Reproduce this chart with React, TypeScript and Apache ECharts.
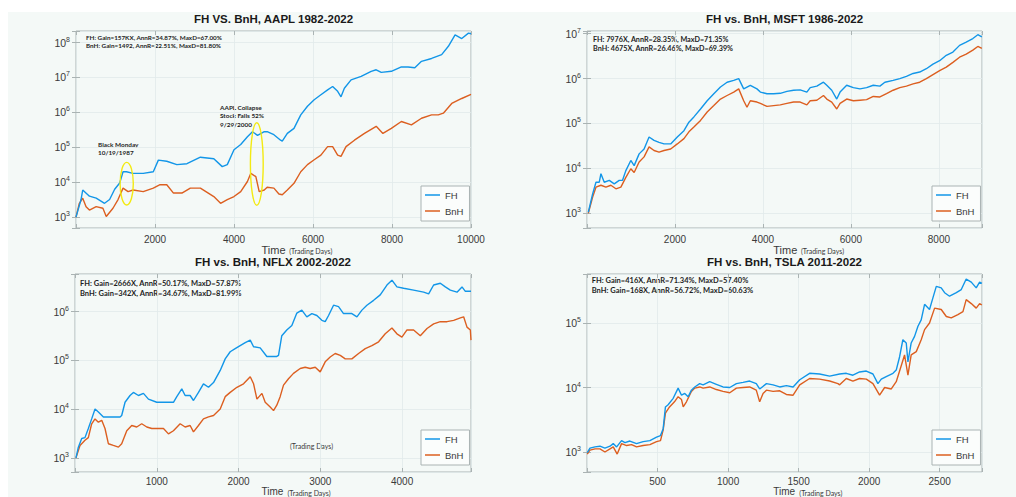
import React, { useEffect, useRef } from 'react';
import * as echarts from 'echarts';

// ---------- data (trading day, portfolio value) ----------
const AAPL_FH: [number, number][] = [
  [0, 1.0e3], [128, 3.2e3], [170, 6.0e3], [340, 4.0e3], [511, 3.5e3], [723, 2.5e3], [851, 3.2e3],
  [979, 6.3e3], [1106, 9.5e3], [1191, 2.0e4], [1277, 2.0e4], [1447, 1.8e4], [1702, 1.8e4],
  [1957, 2.0e4], [2085, 4.3e4], [2298, 4.0e4], [2553, 3.2e4], [2809, 3.4e4], [3149, 5.2e4],
  [3489, 4.7e4], [3702, 2.8e4], [3830, 3.2e4], [4000, 8.5e4], [4170, 1.2e5], [4340, 2.0e5],
  [4468, 2.8e5], [4596, 2.2e5], [4766, 2.8e5], [4840, 2.8e5], [5010, 2.3e5], [5180, 1.6e5],
  [5222, 1.5e5], [5350, 2.5e5], [5519, 3.5e5], [5690, 8.5e5], [5860, 1.5e6], [6030, 2.3e6],
  [6200, 3.2e6], [6370, 4.4e6], [6497, 5.5e6], [6624, 4.0e6], [6709, 2.8e6], [6794, 4.9e6],
  [6964, 8.5e6], [7219, 1.07e7], [7473, 1.5e7], [7600, 1.66e7], [7728, 1.4e7], [7983, 1.5e7],
  [8237, 2.0e7], [8407, 2.0e7], [8577, 1.9e7], [8747, 2.9e7], [9002, 3.5e7], [9257, 4.5e7],
  [9427, 7.8e7], [9597, 1.66e8], [9766, 1.3e8], [9936, 1.86e8], [10000, 1.78e8],
];
const AAPL_BNH: [number, number][] = [
  [0, 1.0e3], [85, 2.5e3], [170, 3.5e3], [255, 2.0e3], [340, 1.6e3], [511, 2.0e3], [681, 1.8e3],
  [766, 1.05e3], [936, 1.8e3], [1064, 3.2e3], [1191, 6.8e3], [1319, 5.4e3], [1447, 6.0e3],
  [1702, 5.4e3], [1957, 6.8e3], [2128, 8.5e3], [2298, 8.5e3], [2468, 4.9e3], [2681, 4.9e3],
  [2894, 6.8e3], [3149, 6.8e3], [3489, 3.9e3], [3660, 2.5e3], [3830, 3.2e3], [4000, 3.9e3],
  [4170, 5.4e3], [4340, 1.05e4], [4426, 1.8e4], [4553, 1.45e4], [4638, 5.4e3], [4766, 6.0e3],
  [4840, 7.2e3], [5010, 6.8e3], [5137, 4.6e3], [5222, 4.4e3], [5350, 6.0e3], [5519, 9.3e3],
  [5690, 2.0e4], [5860, 3.2e4], [6030, 4.4e4], [6200, 6.0e4], [6370, 1.05e5], [6497, 1.05e5],
  [6624, 6.0e4], [6709, 5.5e4], [6836, 1.05e5], [7049, 1.6e5], [7303, 2.5e5], [7600, 4.0e5],
  [7770, 2.5e5], [7983, 3.5e5], [8237, 5.5e5], [8492, 4.4e5], [8747, 6.8e5], [9002, 8.5e5],
  [9172, 8.5e5], [9300, 9.5e5], [9512, 1.8e6], [9766, 2.5e6], [10000, 3.3e6],
];
const MSFT_FH: [number, number][] = [
  [30, 1.05e3], [128, 2.7e3], [204, 4.9e3], [279, 4.9e3], [317, 7.6e3], [392, 4.9e3], [506, 5.4e3],
  [619, 4.5e3], [732, 5.4e3], [808, 5.4e3], [883, 8.9e3], [996, 1.5e4], [1072, 1.15e4],
  [1185, 2.1e4], [1298, 2.7e4], [1411, 5.0e4], [1524, 4.2e4], [1638, 3.8e4], [1751, 3.5e4],
  [1902, 3.5e4], [2053, 5.0e4], [2204, 6.9e4], [2317, 1.07e5], [2430, 1.4e5], [2581, 2.1e5],
  [2732, 3.2e5], [2883, 4.6e5], [3034, 6.5e5], [3185, 8.3e5], [3336, 9.1e5], [3449, 1.0e6],
  [3562, 5.9e5], [3713, 7.1e5], [3864, 5.9e5], [3941, 5.0e5], [4092, 4.6e5], [4243, 4.6e5],
  [4394, 4.7e5], [4545, 5.2e5], [4696, 5.5e5], [4847, 5.6e5], [4998, 5.0e5], [5074, 6.3e5],
  [5225, 6.8e5], [5376, 8.3e5], [5451, 7.1e5], [5564, 5.5e5], [5678, 3.5e5], [5753, 5.0e5],
  [5904, 7.1e5], [6055, 6.3e5], [6206, 5.9e5], [6357, 6.3e5], [6508, 7.1e5], [6659, 6.8e5],
  [6772, 8.3e5], [6960, 9.1e5], [7111, 1.0e6], [7262, 1.12e6], [7413, 1.3e6], [7564, 1.4e6],
  [7715, 1.66e6], [7866, 2.1e6], [8017, 2.5e6], [8168, 3.3e6], [8319, 3.9e6], [8470, 5.5e6],
  [8621, 6.5e6], [8772, 7.8e6], [8885, 9.5e6], [8976, 8.5e6],
];
const MSFT_BNH: [number, number][] = [
  [30, 1.0e3], [128, 2.3e3], [204, 3.8e3], [317, 4.2e3], [430, 3.8e3], [543, 4.2e3], [657, 3.5e3],
  [770, 3.8e3], [883, 6.3e3], [996, 9.8e3], [1072, 8.1e3], [1185, 1.38e4], [1298, 1.8e4],
  [1411, 3.0e4], [1524, 2.5e4], [1638, 2.3e4], [1751, 2.5e4], [1902, 2.7e4], [2053, 3.5e4],
  [2204, 4.6e4], [2317, 6.5e4], [2430, 8.3e4], [2581, 1.17e5], [2732, 1.8e5], [2883, 2.5e5],
  [3034, 3.5e5], [3185, 4.2e5], [3336, 5.0e5], [3449, 5.9e5], [3562, 3.2e5], [3637, 2.3e5],
  [3713, 3.2e5], [3864, 3.0e5], [3941, 2.8e5], [4092, 2.4e5], [4243, 2.5e5], [4394, 2.6e5],
  [4545, 2.8e5], [4696, 3.0e5], [4847, 3.0e5], [4998, 2.6e5], [5074, 3.2e5], [5225, 3.3e5],
  [5376, 4.2e5], [5451, 3.5e5], [5564, 3.0e5], [5678, 2.1e5], [5753, 2.8e5], [5904, 3.5e5],
  [6055, 3.2e5], [6206, 3.3e5], [6357, 3.4e5], [6508, 4.0e5], [6659, 3.9e5], [6809, 4.6e5],
  [6960, 5.5e5], [7111, 6.3e5], [7262, 6.8e5], [7413, 7.6e5], [7564, 8.3e5], [7715, 1.0e6],
  [7866, 1.23e6], [8017, 1.5e6], [8168, 1.8e6], [8319, 2.3e6], [8470, 3.0e6], [8621, 3.5e6],
  [8772, 4.3e6], [8885, 5.2e6], [8976, 4.7e6],
];
const NFLX_FH: [number, number][] = [
  [12, 1.0e3], [41, 1.66e3], [82, 2.5e3], [122, 2.6e3], [163, 4.0e3], [204, 6.3e3], [245, 1.0e4],
  [286, 8.7e3], [347, 6.9e3], [429, 6.9e3], [551, 6.9e3], [571, 7.4e3], [612, 1.38e4],
  [673, 1.9e4], [714, 2.2e4], [776, 1.9e4], [837, 2.1e4], [898, 1.6e4], [1000, 1.38e4],
  [1204, 1.38e4], [1245, 1.8e4], [1306, 2.6e4], [1347, 1.9e4], [1408, 1.9e4], [1449, 1.5e4],
  [1510, 2.2e4], [1571, 3.3e4], [1633, 2.8e4], [1694, 3.5e4], [1776, 6.2e4], [1837, 1.07e5],
  [1898, 1.5e5], [1959, 1.74e5], [2020, 2.0e5], [2082, 2.3e5], [2143, 2.6e5], [2184, 1.9e5],
  [2265, 1.8e5], [2346, 1.2e5], [2468, 1.2e5], [2489, 1.26e5], [2529, 3.2e5], [2590, 4.2e5],
  [2652, 5.2e5], [2713, 9.3e5], [2774, 1.07e6], [2835, 7.8e5], [2897, 9.1e5], [2958, 8.3e5],
  [3019, 6.6e5], [3060, 6.2e5], [3101, 8.3e5], [3162, 1.35e6], [3223, 1.26e6], [3284, 9.1e5],
  [3386, 9.1e5], [3448, 7.8e5], [3509, 1.07e6], [3570, 1.35e6], [3652, 1.7e6], [3733, 2.2e6],
  [3815, 3.5e6], [3876, 4.4e6], [3937, 3.2e6], [4019, 3.0e6], [4141, 2.75e6], [4264, 2.5e6],
  [4325, 2.3e6], [4386, 3.5e6], [4468, 3.8e6], [4529, 3.2e6], [4590, 2.75e6], [4672, 2.5e6],
  [4733, 3.2e6], [4774, 2.6e6], [4843, 2.6e6],
];
const NFLX_BNH: [number, number][] = [
  [12, 1.0e3], [61, 1.8e3], [122, 2.3e3], [163, 2.6e3], [204, 5.0e3], [245, 6.3e3], [286, 5.4e3],
  [327, 5.9e3], [367, 4.0e3], [408, 1.95e3], [469, 1.8e3], [531, 1.66e3], [571, 1.95e3],
  [633, 3.6e3], [694, 4.6e3], [755, 4.3e3], [816, 5.0e3], [878, 4.3e3], [939, 4.0e3],
  [1000, 4.0e3], [1082, 4.0e3], [1143, 3.1e3], [1204, 3.6e3], [1286, 5.0e3], [1347, 4.3e3],
  [1408, 4.6e3], [1449, 3.4e3], [1510, 4.6e3], [1571, 6.3e3], [1633, 6.9e3], [1694, 7.4e3],
  [1776, 1.0e4], [1837, 1.8e4], [1898, 2.2e4], [1980, 2.8e4], [2061, 3.3e4], [2143, 4.6e4],
  [2184, 3.3e4], [2225, 1.6e4], [2286, 2.1e4], [2326, 1.38e4], [2387, 1.1e4], [2428, 9.3e3],
  [2468, 1.2e4], [2509, 1.8e4], [2550, 3.1e4], [2611, 4.2e4], [2672, 5.4e4], [2754, 6.8e4],
  [2815, 7.2e4], [2876, 6.8e4], [2938, 7.2e4], [2999, 5.8e4], [3060, 9.3e4], [3121, 1.17e5],
  [3182, 1.38e5], [3244, 1.26e5], [3305, 1.07e5], [3386, 1.07e5], [3468, 1.38e5], [3550, 1.74e5],
  [3631, 2.0e5], [3713, 2.4e5], [3794, 3.5e5], [3876, 4.6e5], [3937, 3.5e5], [3998, 3.0e5],
  [4060, 4.2e5], [4141, 4.2e5], [4223, 3.2e5], [4305, 4.5e5], [4386, 5.6e5], [4468, 6.2e5],
  [4550, 6.2e5], [4631, 6.6e5], [4713, 7.4e5], [4753, 7.8e5], [4794, 4.8e5], [4835, 4.2e5],
  [4843, 2.6e5],
];
const TSLA_FH: [number, number][] = [
  [2, 980], [21, 1.15e3], [57, 1.2e3], [92, 1.23e3], [127, 1.15e3], [163, 1.23e3], [186, 1.35e3],
  [210, 1.2e3], [245, 1.5e3], [269, 1.4e3], [304, 1.48e3], [351, 1.35e3], [398, 1.45e3],
  [446, 1.5e3], [493, 1.7e3], [521, 1.8e3], [540, 2.3e3], [556, 5.0e3], [575, 5.4e3],
  [611, 6.8e3], [646, 9.8e3], [670, 7.6e3], [693, 8.1e3], [717, 7.2e3], [740, 9.1e3],
  [764, 1.02e4], [799, 1.15e4], [823, 1.1e4], [870, 1.23e4], [917, 1.12e4], [964, 1.02e4],
  [1012, 1.0e4], [1059, 1.15e4], [1106, 1.2e4], [1153, 1.26e4], [1200, 1.15e4], [1224, 9.5e3],
  [1272, 1.15e4], [1319, 1.1e4], [1366, 1.02e4], [1413, 1.07e4], [1461, 1.02e4], [1508, 1.32e4],
  [1578, 1.66e4], [1649, 1.62e4], [1720, 1.5e4], [1791, 1.62e4], [1838, 1.66e4], [1885, 1.55e4],
  [1932, 1.74e4], [1980, 1.8e4], [2027, 1.62e4], [2062, 1.15e4], [2086, 1.35e4], [2121, 1.48e4],
  [2169, 1.66e4], [2192, 1.86e4], [2216, 3.0e4], [2239, 5.5e4], [2263, 4.9e4], [2275, 2.5e4],
  [2298, 4.9e4], [2322, 6.2e4], [2346, 8.9e4], [2369, 1.12e5], [2393, 1.95e5], [2428, 1.62e5],
  [2452, 2.45e5], [2476, 3.7e5], [2511, 3.5e5], [2535, 2.95e5], [2570, 2.6e5], [2618, 2.95e5],
  [2653, 3.3e5], [2688, 4.8e5], [2724, 4.3e5], [2759, 3.5e5], [2783, 4.3e5], [2799, 4.1e5],
];
const TSLA_BNH: [number, number][] = [
  [2, 930], [21, 1.07e3], [57, 1.12e3], [92, 1.12e3], [127, 1.0e3], [163, 1.12e3], [186, 1.2e3],
  [214, 930], [245, 1.35e3], [281, 1.26e3], [316, 1.3e3], [351, 1.2e3], [398, 1.26e3],
  [446, 1.3e3], [493, 1.45e3], [521, 1.5e3], [540, 2.2e3], [556, 4.0e3], [585, 5.0e3],
  [620, 6.0e3], [646, 7.2e3], [670, 6.5e3], [682, 5.0e3], [705, 6.0e3], [740, 8.7e3],
  [764, 9.8e3], [799, 1.02e4], [823, 9.8e3], [870, 1.02e4], [917, 9.3e3], [964, 8.7e3],
  [1012, 8.3e3], [1059, 9.8e3], [1106, 1.0e4], [1153, 1.02e4], [1200, 9.1e3], [1224, 6.0e3],
  [1248, 8.1e3], [1272, 9.1e3], [1319, 8.7e3], [1366, 8.9e3], [1413, 7.8e3], [1461, 7.6e3],
  [1508, 1.1e4], [1578, 1.38e4], [1649, 1.35e4], [1720, 1.26e4], [1779, 1.15e4], [1791, 1.1e4],
  [1838, 1.38e4], [1885, 1.26e4], [1932, 1.38e4], [1980, 1.35e4], [2027, 1.15e4], [2074, 7.6e3],
  [2110, 1.0e4], [2157, 9.5e3], [2192, 1.23e4], [2228, 2.2e4], [2251, 3.2e4], [2275, 1.55e4],
  [2298, 3.2e4], [2334, 3.6e4], [2369, 5.5e4], [2393, 7.9e4], [2428, 1.0e5], [2464, 1.7e5],
  [2511, 1.62e5], [2547, 1.26e5], [2582, 1.2e5], [2629, 1.35e5], [2665, 1.5e5], [2688, 2.3e5],
  [2724, 2.0e5], [2759, 1.7e5], [2783, 2.0e5], [2799, 1.9e5],
];

const SERIES_NAMES = ['FH', 'BnH'];
const TITLES = [
  'FH VS. BnH, AAPL 1982-2022',
  'FH vs. BnH, MSFT 1986-2022',
  'FH vs. BnH, NFLX 2002-2022',
  'FH vs. BnH, TSLA 2011-2022',
];
const STATS = [
  ['FH: Gain=157KX, AnnR=34.87%, MaxD=67.00%', 'BnH: Gain=1492, AnnR=22.51%, MaxD=81.80%'],
  ['FH: 7976X, AnnR=28.35%, MaxD=71.35%', 'BnH: 4675X, AnnR=26.46%, MaxD=69.39%'],
  ['FH: Gain=2666X, AnnR=50.17%, MaxD=57.87%', 'BnH: Gain=342X, AnnR=34.67%, MaxD=81.99%'],
  ['FH: Gain=416X, AnnR=71.34%, MaxD=57.40%', 'BnH: Gain=168X, AnnR=56.72%, MaxD=60.63%'],
];
const X_STEP = [2000, 2000, 1000, 500];
const X_MAX = [10000, 8980, 4843, 2800];
const Y_MIN = [490, 468, 513, 490];
const Y_MAX = [2.14e8, 1.15e7, 5.89e6, 5.75e5];
const DATA: [number, number][][][] = [
  [AAPL_FH, AAPL_BNH],
  [MSFT_FH, MSFT_BNH],
  [NFLX_FH, NFLX_BNH],
  [TSLA_FH, TSLA_BNH],
];

// ---------- layout / style ----------
const GRIDS = [
  { left: 76, top: 31, width: 395, height: 197 },
  { left: 587, top: 31, width: 395, height: 197 },
  { left: 75, top: 274, width: 396, height: 198 },
  { left: 587, top: 274, width: 395, height: 198 },
];
const STATS_POS = [
  { x: 86, y: 37.3, dy: 7.8, size: 6.3 },
  { x: 593, y: 39.3, dy: 9.4, size: 7.2 },
  { x: 80, y: 283.3, dy: 10, size: 7.5 },
  { x: 591.7, y: 280, dy: 10, size: 7.5 },
];
const COLORS = ['#1296e8', '#dc5f20'];
const BG = '#f4f9f7';
const AXIS_C = '#aab3b3';
const GRID_C = '#e1eaea';
const LABEL_C = '#3a3a3a';
const SANS = '"Liberation Sans", Arial, Helvetica, sans-serif';
const NOTE = 'Lato, "Open Sans", sans-serif';

function buildOption() {
  const xAxis: any[] = [];
  const yAxis: any[] = [];
  const grid: any[] = [];
  const series: any[] = [];
  const legend: any[] = [];
  const graphic: any[] = [
    { type: 'rect', shape: { x: 0, y: 0, width: 1016, height: 12 }, style: { fill: '#ffffff' }, silent: true },
    { type: 'rect', shape: { x: 0, y: 0, width: 8, height: 497 }, style: { fill: '#ffffff' }, silent: true },
  ];

  const powFmt = (v: number) => {
    const e = Math.log10(v);
    const r = Math.round(e);
    if (Math.abs(e - r) > 1e-6) return '';
    return `{b|10}{s|${r}}`;
  };

  GRIDS.forEach((g, i) => {
    const bottomRow = i >= 2;
    grid.push({
      ...g,
      show: true,
      backgroundColor: BG,
      borderColor: AXIS_C,
      borderWidth: 1,
      containLabel: false,
    });
    const step = X_STEP[i];
    const xBase = {
      type: 'value',
      gridIndex: i,
      min: 0,
      max: X_MAX[i],
      interval: step,
      axisLine: { show: false },
      axisTick: { show: true, inside: true, length: 4, lineStyle: { color: AXIS_C } },
    };
    xAxis.push({
      ...xBase,
      position: 'bottom',
      splitLine: { show: true, lineStyle: { color: GRID_C, width: 0.8 } },
      axisLabel: {
        margin: bottomRow ? 4 : 6,
        fontSize: 10,
        color: LABEL_C,
        fontFamily: SANS,
        formatter: (v: number) => (v > 0 && v % step === 0 ? String(v) : ''),
      },
    });
    xAxis.push({
      ...xBase,
      position: 'top',
      splitLine: { show: false },
      axisLabel: { show: false },
    });
    const yBase = {
      type: 'log',
      logBase: 10,
      gridIndex: i,
      min: Y_MIN[i],
      max: Y_MAX[i],
      axisLine: { show: false },
      axisTick: { show: true, inside: true, length: 4, lineStyle: { color: AXIS_C } },
    };
    yAxis.push({
      ...yBase,
      position: 'left',
      splitLine: { show: true, lineStyle: { color: GRID_C, width: 0.8 } },
      axisLabel: {
        margin: 6,
        color: LABEL_C,
        fontFamily: SANS,
        formatter: powFmt,
        rich: {
          b: { fontSize: 10.5, fontFamily: SANS, color: LABEL_C, lineHeight: 14 },
          s: { fontSize: 7, fontFamily: SANS, color: LABEL_C, lineHeight: 8, verticalAlign: 'top' },
        },
      },
    });
    yAxis.push({
      ...yBase,
      position: 'right',
      splitLine: { show: false },
      axisLabel: { show: false },
    });

    DATA[i].forEach((d, k) => {
      series.push({
        type: 'line',
        name: SERIES_NAMES[k],
        xAxisIndex: 2 * i,
        yAxisIndex: 2 * i,
        data: d,
        symbol: 'none',
        showSymbol: false,
        lineStyle: { color: COLORS[k], width: 1.4 },
        itemStyle: { color: COLORS[k] },
        z: 3 - k,
      });
    });

    const lx = g.left + g.width - 50;
    const ly = g.top + g.height - 42;
    legend.push({
      orient: 'vertical',
      left: lx,
      top: ly,
      data: SERIES_NAMES,
      icon: 'rect',
      itemWidth: 15,
      itemHeight: 1.5,
      itemGap: 5,
      padding: [3.5, 6, 4.5, 4],
      borderColor: AXIS_C,
      borderWidth: 1,
      backgroundColor: '#fbfdfc',
      selectedMode: false,
      textStyle: { fontSize: 9.5, color: LABEL_C, fontFamily: SANS, lineHeight: 11 },
    });

    const cx = g.left + g.width / 2;
    const ty = i < 2 ? 19 : 262.3;
    graphic.push({
      type: 'text',
      x: cx,
      y: ty,
      style: {
        text: TITLES[i],
        font: `bold 11.5px ${SANS}`,
        fill: '#1a1a1a',
        textAlign: 'center',
        textVerticalAlign: 'middle',
      },
      silent: true,
    });

    const sp = STATS_POS[i];
    STATS[i].forEach((line, k) => {
      graphic.push({
        type: 'text',
        x: sp.x,
        y: sp.y + k * sp.dy,
        style: {
          text: line,
          font: `bold ${sp.size}px ${NOTE}`,
          fill: '#1e1e1e',
          textAlign: 'left',
          textVerticalAlign: 'middle',
        },
        silent: true,
      });
    });

    const tx = i % 2 === 0 ? 261.5 : 773.3;
    const tyy = bottomRow ? 491.5 : 250.3;
    const tSize = bottomRow ? 10 : 11;
    graphic.push({
      type: 'text',
      x: tx,
      y: tyy,
      style: { text: 'Time', font: `${tSize}px ${SANS}`, fill: LABEL_C, textAlign: 'left', textVerticalAlign: 'middle' },
      silent: true,
    });
    graphic.push({
      type: 'text',
      x: tx + (bottomRow ? 26 : 27.7),
      y: tyy + 1,
      style: { text: '(Trading Days)', font: `7px ${NOTE}`, fill: LABEL_C, textAlign: 'left', textVerticalAlign: 'middle' },
      silent: true,
    });
  });

  // annotations in the AAPL panel
  const notes: [string, number, number][] = [
    ['Black Monday', 98, 144],
    ['10/19/1987', 98, 152.7],
    ['AAPL Collapse', 220, 107.3],
    ['Stock Falls 52%', 220, 115.8],
    ['9/29/2000', 220, 124.3],
  ];
  notes.forEach(([t, x, y]) => {
    graphic.push({
      type: 'text',
      x,
      y,
      style: { text: t, font: `bold 6.4px ${NOTE}`, fill: '#1e1e1e', textAlign: 'left', textVerticalAlign: 'middle' },
      silent: true,
    });
  });
  graphic.push({
    type: 'ellipse',
    shape: { cx: 126.7, cy: 183.7, rx: 6.6, ry: 21.3 },
    style: { fill: 'none', stroke: '#f3ea12', lineWidth: 1.4 },
    silent: true,
    z: 10,
  });
  graphic.push({
    type: 'ellipse',
    shape: { cx: 256.8, cy: 164, rx: 6.4, ry: 41.3 },
    style: { fill: 'none', stroke: '#f3ea12', lineWidth: 1.4 },
    silent: true,
    z: 10,
  });
  graphic.push({
    type: 'text',
    x: 290,
    y: 446,
    style: { text: '(Trading Days)', font: `7px ${NOTE}`, fill: LABEL_C, textAlign: 'left', textVerticalAlign: 'middle' },
    silent: true,
  });

  return {
    animation: false,
    backgroundColor: BG,
    grid,
    xAxis,
    yAxis,
    series,
    legend,
    graphic,
  };
}

export default function App() {
  const ref = useRef<HTMLDivElement>(null);
  useEffect(() => {
    if (!ref.current) return;
    const chart = echarts.init(ref.current, undefined, { renderer: 'svg' });
    chart.setOption(buildOption() as any);
    return () => chart.dispose();
  }, []);
  return (
    <div
      ref={ref}
      style={{ position: 'fixed', left: 0, top: 0, width: 1016, height: 497 }}
    />
  );
}
